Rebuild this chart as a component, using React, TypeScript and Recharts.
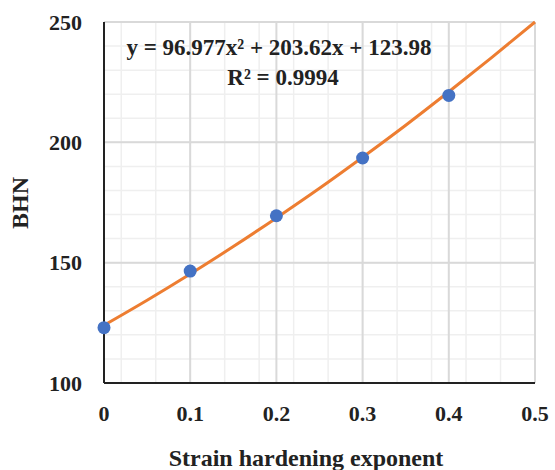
import { ComposedChart, Scatter, Line, XAxis, YAxis, CartesianGrid, Customized } from 'recharts'

// measured points
const strainExp = [0, 0.1, 0.2, 0.3, 0.4]
const bhnValues = [123, 146.5, 169.5, 193.5, 219.5]

// polynomial trendline
const trendX = [0, 0.05, 0.1, 0.15, 0.2, 0.25, 0.3, 0.35, 0.4, 0.45, 0.5]
const trendY = [124, 134.4, 145.3, 156.7, 168.6, 180.9, 193.8, 207.1, 221, 235.3, 250]

const xTicks = [0, 0.1, 0.2, 0.3, 0.4, 0.5]
const yTicks = [100, 150, 200, 250]
const xMinor = [0, 0.02, 0.04, 0.06, 0.08, 0.1, 0.12, 0.14, 0.16, 0.18, 0.2, 0.22, 0.24, 0.26, 0.28, 0.3, 0.32, 0.34, 0.36, 0.38, 0.4, 0.42, 0.44, 0.46, 0.48, 0.5]
const yMinor = [100, 110, 120, 130, 140, 150, 160, 170, 180, 190, 200, 210, 220, 230, 240, 250]

const equationText = 'y = 96.977x² + 203.62x + 123.98'
const r2Text = 'R² = 0.9994'

const points = strainExp.map((x, i) => ({ x, y: bhnValues[i] }))
const trend = trendX.map((x, i) => ({ x, t: trendY[i] }))

const FONT = '"Liberation Serif", "Times New Roman", serif'

const Dot = (props: any) => <circle cx={props.cx} cy={props.cy} r={6.5} fill="#4472C4" />

const Labels = () => (
  <g fontFamily={FONT} fontWeight="bold" fill="#222">
    <text x={279} y={55} fontSize={23} textAnchor="middle">{equationText}</text>
    <text x={283} y={85} fontSize={23} textAnchor="middle">{r2Text}</text>
    <text x={306} y={466} fontSize={24} textAnchor="middle">Strain hardening exponent</text>
    <text x={28} y={203} fontSize={24} textAnchor="middle" transform="rotate(-90 28 203)">BHN</text>
  </g>
)

export default function App() {
  return (
    <div style={{ position: 'absolute', left: 0, top: 0, background: '#fff' }}>
      <ComposedChart width={555} height={470} margin={{ top: 22, right: 20, bottom: 57, left: 0 }}>
        <CartesianGrid stroke="#efefef" strokeWidth={1.5} verticalValues={xMinor} horizontalValues={yMinor} />
        <CartesianGrid stroke="#d9d9d9" strokeWidth={2} verticalValues={xTicks} horizontalValues={yTicks} />
        <XAxis
          type="number"
          dataKey="x"
          domain={[0, 0.5]}
          ticks={xTicks}
          tickLine={false}
          tickSize={0}
          tickMargin={22}
          axisLine={{ stroke: '#222', strokeWidth: 2 }}
          tick={{ fontFamily: FONT, fontWeight: 'bold', fontSize: 22, fill: '#222' }}
        />
        <YAxis
          type="number"
          domain={[100, 250]}
          ticks={yTicks}
          width={104}
          tickLine={false}
          tickSize={0}
          tickMargin={22}
          axisLine={{ stroke: '#222', strokeWidth: 2 }}
          tick={{ fontFamily: FONT, fontWeight: 'bold', fontSize: 22, fill: '#222' }}
        />
        <Line data={trend} dataKey="t" type="monotone" stroke="#ED7D31" strokeWidth={3} dot={false} isAnimationActive={false} />
        <Scatter data={points} dataKey="y" shape={Dot} isAnimationActive={false} />
        <Customized component={Labels} />
      </ComposedChart>
    </div>
  )
}
